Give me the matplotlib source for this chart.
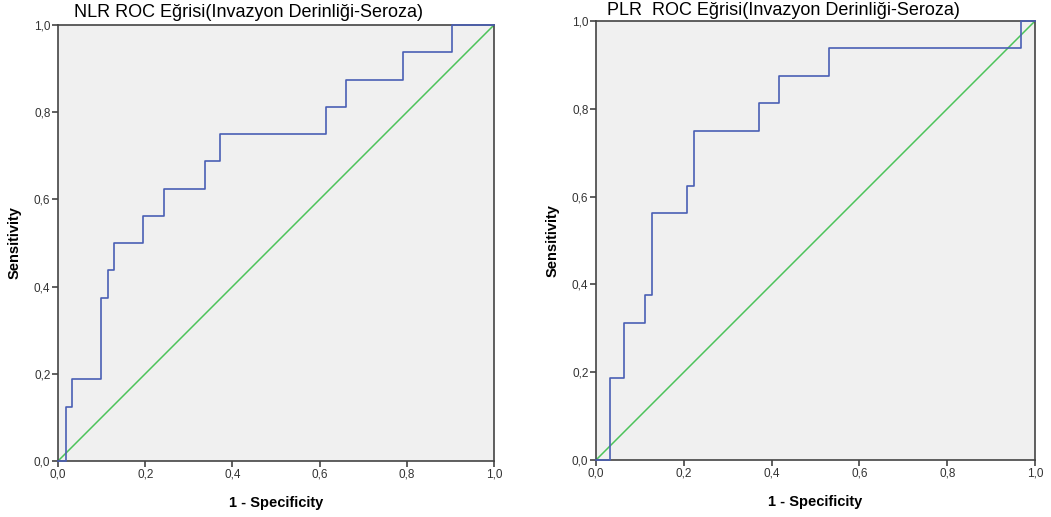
import matplotlib.pyplot as plt
from matplotlib.ticker import FuncFormatter

plt.rcParams["font.family"] = ["Liberation Sans", "DejaVu Sans"]

# NLR ROC curve (step points, 1 - specificity / sensitivity)
nlr_fpr = [0.0, 0.018, 0.018, 0.033, 0.033, 0.098, 0.098, 0.114, 0.114, 0.128, 0.128,
           0.195, 0.195, 0.243, 0.243, 0.337, 0.337, 0.372, 0.372, 0.615, 0.615,
           0.661, 0.661, 0.791, 0.791, 0.904, 0.904, 1.0]
nlr_tpr = [0.0, 0.0, 0.125, 0.125, 0.1875, 0.1875, 0.375, 0.375, 0.4375, 0.4375, 0.5,
           0.5, 0.5625, 0.5625, 0.625, 0.625, 0.6875, 0.6875, 0.75, 0.75, 0.8125,
           0.8125, 0.875, 0.875, 0.9375, 0.9375, 1.0, 1.0]

# PLR ROC curve
plr_fpr = [0.0, 0.032, 0.032, 0.063, 0.063, 0.112, 0.112, 0.128, 0.128, 0.207, 0.207,
           0.223, 0.223, 0.371, 0.371, 0.417, 0.417, 0.531, 0.531, 0.968, 0.968, 1.0]
plr_tpr = [0.0, 0.0, 0.1875, 0.1875, 0.3125, 0.3125, 0.375, 0.375, 0.5625, 0.5625, 0.625,
           0.625, 0.75, 0.75, 0.8125, 0.8125, 0.875, 0.875, 0.9375, 0.9375, 1.0, 1.0]

ref_line = [0.0, 1.0]
ticks = [0.0, 0.2, 0.4, 0.6, 0.8, 1.0]

titles = ["NLR ROC Eğrisi(Invazyon Derinliği-Seroza)",
          "PLR  ROC Eğrisi(Invazyon Derinliği-Seroza)"]

blue = "#4a5fb4"
green = "#4cc35a"
bg = "#f0f0f0"
spine_c = "#444444"

fig = plt.figure(figsize=(10.51, 5.17), dpi=100)
ax1 = fig.add_axes([0.0552, 0.1083, 0.4148, 0.8433])
ax2 = fig.add_axes([0.5671, 0.1103, 0.4177, 0.8491])

comma = FuncFormatter(lambda v, p: f"{v:.1f}".replace(".", ","))

for ax, fpr, tpr, title in [(ax1, nlr_fpr, nlr_tpr, titles[0]),
                            (ax2, plr_fpr, plr_tpr, titles[1])]:
    ax.set_facecolor(bg)
    ax.plot(ref_line, ref_line, color=green, lw=1.1, zorder=2)
    ax.plot(fpr, tpr, color=blue, lw=1.2, zorder=3, clip_on=False)
    ax.set_xlim(0, 1)
    ax.set_ylim(0, 1)
    ax.set_xticks(ticks)
    ax.set_yticks(ticks)
    ax.xaxis.set_major_formatter(comma)
    ax.yaxis.set_major_formatter(comma)
    ax.tick_params(direction="out", length=4, width=1.2, color=spine_c,
                   labelsize=8.5, labelcolor="#333333", pad=1.5)
    for s in ax.spines.values():
        s.set_color(spine_c)
        s.set_linewidth(1.2)
    ax.set_xlabel("1 - Specificity", fontsize=10.5, fontweight="bold", labelpad=11)
    ax.set_ylabel("Sensitivity", fontsize=10.5, fontweight="bold", labelpad=9)

fig.text(0.2365, 0.975, titles[0], fontsize=13, ha="center", va="center")
fig.text(0.745, 0.979, titles[1], fontsize=13, ha="center", va="center")

fig.savefig("out.png", dpi=100)
